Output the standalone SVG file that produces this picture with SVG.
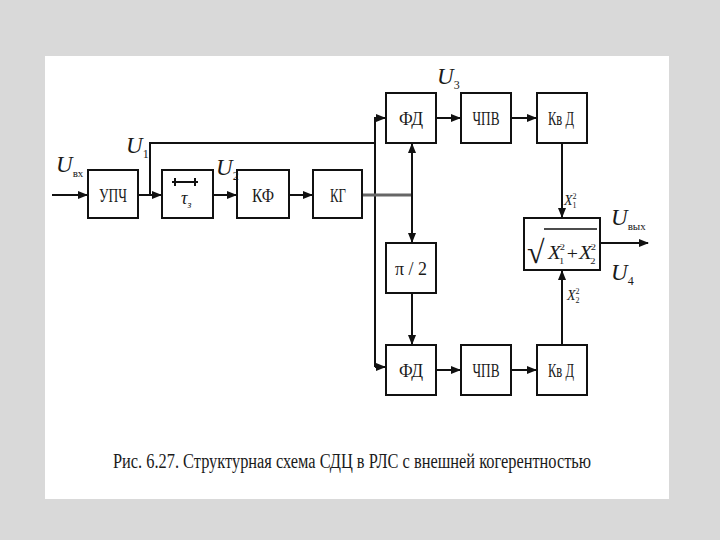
<svg xmlns="http://www.w3.org/2000/svg" width="720" height="540" viewBox="0 0 720 540">
<style>
.bx{fill:#fff;stroke:#111;stroke-width:2}
.ln{fill:none;stroke:#111;stroke-width:2}
.lb{font-family:"Liberation Serif","Times New Roman","DejaVu Serif",serif;font-size:19px;fill:#1a1a1a;text-anchor:middle}
.it{font-family:"Liberation Serif","Times New Roman","DejaVu Serif",serif;font-style:italic;fill:#1a1a1a}
.cap{font-family:"Liberation Serif","Times New Roman","DejaVu Serif",serif;font-size:20px;fill:#1a1a1a}
</style>
<defs>
<marker id="ar" markerWidth="10" markerHeight="8" refX="9" refY="4" orient="auto" markerUnits="userSpaceOnUse">
<path d="M0,0 L10,4 L0,8 Z" fill="#111"/>
</marker>
</defs>
<rect x="0" y="0" width="720" height="540" fill="#d9d9d9"/>
<rect x="45" y="56" width="624" height="443" fill="#fff"/>

<g id="connectors">
<line class="ln" x1="52" y1="195" x2="87" y2="195" marker-end="url(#ar)"/>
<line class="ln" x1="138" y1="195" x2="161" y2="195" marker-end="url(#ar)"/>
<polyline class="ln" points="150,195 150,143 375,143"/>
<polyline class="ln" points="375,367 375,118 385,118" marker-end="url(#ar)"/>
<line class="ln" x1="375" y1="367" x2="385" y2="367" marker-end="url(#ar)"/>
<line class="ln" x1="213" y1="195" x2="236" y2="195" marker-end="url(#ar)"/>
<line class="ln" x1="289" y1="195" x2="312" y2="195" marker-end="url(#ar)"/>
<line x1="362" y1="195" x2="412" y2="195" stroke="#666" stroke-width="3"/>
<line class="ln" x1="412" y1="195" x2="412" y2="144" marker-end="url(#ar)"/>
<line class="ln" x1="412" y1="195" x2="412" y2="242" marker-end="url(#ar)"/>
<line class="ln" x1="412" y1="293" x2="412" y2="344" marker-end="url(#ar)"/>
<line class="ln" x1="436" y1="118" x2="460" y2="118" marker-end="url(#ar)"/>
<line class="ln" x1="511" y1="118" x2="536" y2="118" marker-end="url(#ar)"/>
<line class="ln" x1="436" y1="370" x2="460" y2="370" marker-end="url(#ar)"/>
<line class="ln" x1="511" y1="370" x2="536" y2="370" marker-end="url(#ar)"/>
<line class="ln" x1="562" y1="143" x2="562" y2="217" marker-end="url(#ar)"/>
<line class="ln" x1="562" y1="345" x2="562" y2="271" marker-end="url(#ar)"/>
<line class="ln" x1="600" y1="243" x2="648" y2="243" marker-end="url(#ar)"/>
</g>

<g id="upch"><rect class="bx" x="88" y="170" width="50" height="48"/><text class="lb" x="113" y="202" textLength="28" lengthAdjust="spacingAndGlyphs">УПЧ</text></g>
<g id="delay"><rect class="bx" x="162" y="170" width="51" height="48"/>
<line class="ln" x1="172" y1="182" x2="198" y2="182" stroke-width="1.5"/>
<line class="ln" x1="175" y1="178" x2="175" y2="186" stroke-width="1.5"/>
<line class="ln" x1="195" y1="178" x2="195" y2="186" stroke-width="1.5"/>
<text class="it" x="181" y="204" font-size="18" font-style="normal">τ<tspan font-size="10" dy="4">з</tspan></text></g>
<g id="kf"><rect class="bx" x="237" y="170" width="52" height="48"/><text class="lb" x="263" y="202" textLength="22" lengthAdjust="spacingAndGlyphs">КФ</text></g>
<g id="kg"><rect class="bx" x="313" y="170" width="49" height="48"/><text class="lb" x="338" y="202" textLength="16" lengthAdjust="spacingAndGlyphs">КГ</text></g>
<g id="fd1"><rect class="bx" x="386" y="93" width="50" height="50"/><text class="lb" x="411" y="125" textLength="24" lengthAdjust="spacingAndGlyphs">ФД</text></g>
<g id="chpv1"><rect class="bx" x="461" y="93" width="50" height="50"/><text class="lb" x="486" y="125" textLength="27" lengthAdjust="spacingAndGlyphs">ЧПВ</text></g>
<g id="kvd1"><rect class="bx" x="537" y="93" width="50" height="50"/><text class="lb" x="561" y="125" textLength="26" lengthAdjust="spacingAndGlyphs">Кв Д</text></g>
<g id="pi2"><rect class="bx" x="386" y="243" width="50" height="50"/><text class="lb" x="411" y="275" textLength="32" lengthAdjust="spacingAndGlyphs">π / 2</text></g>
<g id="fd2"><rect class="bx" x="386" y="345" width="50" height="50"/><text class="lb" x="411" y="377" textLength="24" lengthAdjust="spacingAndGlyphs">ФД</text></g>
<g id="chpv2"><rect class="bx" x="461" y="345" width="50" height="50"/><text class="lb" x="486" y="377" textLength="27" lengthAdjust="spacingAndGlyphs">ЧПВ</text></g>
<g id="kvd2"><rect class="bx" x="537" y="345" width="50" height="50"/><text class="lb" x="561" y="377" textLength="26" lengthAdjust="spacingAndGlyphs">Кв Д</text></g>
<g id="sqrt"><rect class="bx" x="524" y="218" width="76" height="52"/>
<text class="it" x="527" y="263" font-size="32" font-style="normal">√</text>
<line x1="544" y1="229" x2="597" y2="229" stroke="#111" stroke-width="1.5"/>
<text class="it" x="548" y="259" font-size="18" textLength="48" lengthAdjust="spacingAndGlyphs">X<tspan font-size="9" font-style="normal" dx="-1" dy="-9">2</tspan><tspan font-size="9" font-style="normal" dx="-5" dy="14">1</tspan><tspan font-size="17" font-style="normal" dx="2" dy="-5">+</tspan><tspan dx="1">X</tspan><tspan font-size="9" font-style="normal" dx="-1" dy="-9">2</tspan><tspan font-size="9" font-style="normal" dx="-5" dy="14">2</tspan></text>
</g>

<g id="labels">
<text class="it" x="56" y="172" font-size="23">U<tspan font-size="11" font-style="normal" dy="5">вх</tspan></text>
<text class="it" x="126" y="153" font-size="23">U<tspan font-size="12" font-style="normal" dy="5">1</tspan></text>
<text class="it" x="216" y="175" font-size="23">U<tspan font-size="12" font-style="normal" dy="5">2</tspan></text>
<text class="it" x="437" y="84" font-size="23">U<tspan font-size="12" font-style="normal" dy="5">3</tspan></text>
<text class="it" x="611" y="225" font-size="23">U<tspan font-size="11" font-style="normal" dy="5">вых</tspan></text>
<text class="it" x="611" y="280" font-size="23">U<tspan font-size="12" font-style="normal" dy="5">4</tspan></text>
<text class="it" x="564" y="205" font-size="14">X<tspan font-size="8" font-style="normal" dy="-6">2</tspan><tspan font-size="8" font-style="normal" dx="-4" dy="9">1</tspan></text>
<text class="it" x="567" y="300" font-size="14">X<tspan font-size="8" font-style="normal" dy="-6">2</tspan><tspan font-size="8" font-style="normal" dx="-4" dy="9">2</tspan></text>
</g>

<text class="cap" x="113" y="468" textLength="478" lengthAdjust="spacingAndGlyphs">Рис. 6.27. Структурная схема СДЦ в РЛС с внешней когерентностью</text>
</svg>
